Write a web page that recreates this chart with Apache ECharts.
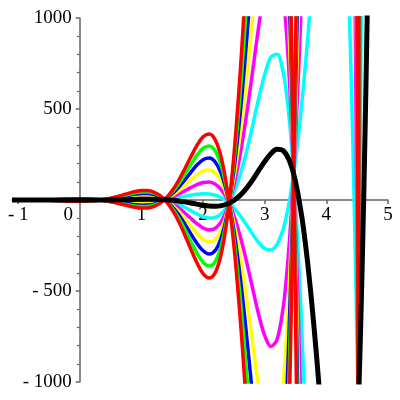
<!DOCTYPE html>
<html>
<head>
<meta charset="utf-8">
<script src="https://cdn.jsdelivr.net/npm/echarts@6/dist/echarts.min.js"></script>
<style>
  html, body { margin: 0; padding: 0; background: #fff; }
  #chart { width: 400px; height: 400px; }
</style>
</head>
<body>
<div id="chart"></div>
<script>
// tick positions on the x axis
const xTicks = [-1, 0, 1, 2, 3, 4, 5];

// [x, y] points, null y = curve is off the chart
const curveBlack = [[-1.1,0.1],[-0.5,-0.1],[-0.2,-0.3],[0,-0.5],[0.2,-0.5],[0.3,-0.3],[0.4,-0.1],[0.5,0.4],[0.6,0.9],[0.7,1.6],[0.8,2.4],[0.9,3.2],[1.0,3.8],[1.1,4.2],[1.2,4.1],[1.3,3.3],[1.4,1.6],[1.5,-1.2],[1.6,-5.1],[1.7,-10.3],[1.8,-16.3],[1.9,-22.8],[2.0,-28.8],[2.1,-33.2],[2.2,-34.5],[2.3,-31.0],[2.4,-20.9],[2.5,-2.5],[2.6,25.3],[2.7,62.8],[2.8,108.7],[2.9,161.0],[3.0,211.5],[3.1,254.6],[3.2,278.8],[3.3,271.0],[3.4,216.2],[3.5,100.0],[3.6,-88.8],[3.65,-212.7],[3.7,-356.4],[3.75,-519.0],[3.8,-699.6],[3.85,-894.3],[3.9,-1100.5],[4.2,null],[4.52,-1123.2],[4.53,-1012.0],[4.54,-898.5],[4.55,-779.7],[4.56,-650.3],[4.58,-378.0],[4.6,-80.4],[4.62,242.1],[4.64,589.7],[4.66,963.8],[4.68,1363.3]];

const cyanA = [[-1.1,-0.1],[-0.5,0.2],[-0.2,0.5],[0,0.5],[0.2,0.2],[0.3,-0.1],[0.4,-0.6],[0.5,-1.3],[0.6,-2.0],[0.7,-2.8],[0.8,-3.5],[0.9,-4.0],[1.0,-4.2],[1.1,-3.7],[1.2,-2.5],[1.3,-0.3],[1.4,3.1],[1.5,7.7],[1.6,13.3],[1.7,19.5],[1.8,25.8],[1.9,31.0],[2.0,33.8],[2.1,32.8],[2.2,26.0],[2.3,11.8],[2.4,-11.3],[2.5,-43.9],[2.6,-85.6],[2.7,-134.3],[2.8,-185.8],[2.9,-232.9],[3.0,-266.9],[3.1,-274.9],[3.2,-243.9],[3.3,-159.2],[3.35,-91.6],[3.4,-6.9],[3.45,97.6],[3.5,221.6],[3.55,365.4],[3.6,526.8],[3.65,705.7],[3.7,898.8],[3.75,1102.4],[4.0,null],[4.35,1261.5],[4.375,1003.4],[4.4,709.5],[4.42,447.4],[4.44,161.7],[4.46,-149.3],[4.48,-485.2],[4.49,-662.0],[4.5,-846.4],[4.51,-1036.3]];
const cyanB = [[-1.1,0.2],[-0.5,-0.3],[-0.2,-1.1],[0,-1.5],[0.2,-1.1],[0.3,-0.5],[0.4,0.5],[0.5,2.0],[0.6,3.8],[0.7,6.0],[0.8,8.3],[0.9,10.4],[1.0,11.8],[1.1,12.2],[1.2,10.8],[1.3,6.9],[1.4,0.2],[1.5,-10.0],[1.6,-23.6],[1.7,-40.1],[1.8,-58.4],[1.9,-76.5],[2.0,-91.4],[2.1,-99.1],[2.2,-95.0],[2.3,-73.7],[2.4,-30.5],[2.5,38.8],[2.6,136.2],[2.7,259.8],[2.8,403.2],[2.9,554.9],[3.0,689.9],[3.1,784.2],[3.2,801.5],[3.3,701.2],[3.35,592.0],[3.4,439.2],[3.45,235.4],[3.5,-21.7],[3.55,-335.6],[3.6,-704.5],[3.65,-1131.1],[4.0,null],[4.51,-1417.7],[4.52,-1013.8],[4.53,-586.7],[4.54,-152.6],[4.55,297.9],[4.56,782.0],[4.58,1789.1]];

const magentaA = [[-1.1,-0.2],[-0.5,0.5],[-0.2,1.3],[0,1.5],[0.2,0.9],[0.3,0.0],[0.4,-1.2],[0.5,-2.9],[0.6,-4.9],[0.7,-7.2],[0.8,-9.4],[0.9,-11.2],[1.0,-12.2],[1.1,-11.7],[1.2,-9.1],[1.3,-3.9],[1.4,4.6],[1.5,16.6],[1.6,31.7],[1.7,49.4],[1.8,67.8],[1.9,84.7],[2.0,96.4],[2.1,98.7],[2.2,86.5],[2.3,54.5],[2.4,-1.6],[2.5,-85.2],[2.6,-196.5],[2.7,-331.4],[2.8,-480.3],[2.9,-626.8],[3.0,-745.3],[3.1,-804.5],[3.2,-766.5],[3.3,-589.4],[3.35,-433.5],[3.4,-229.9],[3.45,28.8],[3.5,343.3],[3.55,715.9],[3.575,921.3],[3.6,1142.5],[4.0,null],[4.44,2124.4],[4.46,1364.4],[4.48,533.9],[4.49,93.6],[4.5,-368.1],[4.51,-845.6],[4.52,-1342.0]];
const magentaB = [[-1.1,0.3],[-0.5,-0.6],[-0.2,-2.0],[0,-2.5],[0.2,-1.8],[0.3,-0.7],[0.4,1.1],[0.5,3.6],[0.6,6.7],[0.7,10.4],[0.8,14.1],[0.9,17.6],[1.0,19.9],[1.1,20.1],[1.2,17.4],[1.3,10.5],[1.4,-1.3],[1.5,-18.9],[1.6,-42.0],[1.7,-69.9],[1.8,-100.5],[1.9,-130.2],[2.0,-153.9],[2.1,-165.0],[2.2,-155.4],[2.3,-116.4],[2.4,-40.2],[2.5,80.2],[2.6,247.1],[2.7,456.9],[2.8,697.7],[2.85,823.6],[2.9,948.8],[2.95,1063.7],[3.1,null],[3.3,1131.4],[3.325,1040.7],[3.35,933.9],[3.375,807.6],[3.4,662.3],[3.425,493.3],[3.45,304.2],[3.475,91.9],[3.5,-143.3],[3.525,-401.1],[3.55,-686.1],[3.575,-989.9],[3.6,-1320.2],[4.0,null],[4.5,-2281.3],[4.51,-1608.4],[4.52,-904.4],[4.53,-161.4],[4.54,593.3],[4.55,1375.5]];

const yellowA = [[-1.1,-0.3],[-0.5,0.7],[-0.2,2.1],[0,2.5],[0.2,1.5],[0.3,0.2],[0.4,-1.8],[0.5,-4.5],[0.6,-7.8],[0.7,-11.5],[0.8,-15.3],[0.9,-18.4],[1.0,-20.2],[1.1,-19.7],[1.2,-15.8],[1.3,-7.5],[1.4,6.1],[1.5,25.4],[1.6,50.2],[1.7,79.2],[1.8,109.9],[1.9,138.4],[2.0,159.0],[2.1,164.6],[2.2,147.0],[2.3,97.3],[2.4,8.0],[2.5,-126.6],[2.6,-307.4],[2.7,-528.5],[2.75,-649.9],[2.8,-774.8],[2.85,-899.9],[2.9,-1020.7],[3.1,null],[3.3,-1019.6],[3.325,-906.0],[3.35,-775.3],[3.375,-624.1],[3.4,-453.0],[3.425,-257.0],[3.45,-40.1],[3.475,200.7],[3.5,464.9],[3.525,751.9],[3.55,1066.4],[4.0,null],[4.46,2878.1],[4.48,1553.0],[4.49,849.2],[4.5,110.2],[4.51,-654.9],[4.52,-1451.4]];
const yellowB = [[-1.1,0.4],[-0.5,-0.9],[-0.2,-2.8],[0,-3.5],[0.2,-2.5],[0.3,-0.9],[0.4,1.7],[0.5,5.2],[0.6,9.7],[0.7,14.8],[0.8,20.0],[0.9,24.7],[1.0,27.9],[1.1,28.1],[1.2,24.0],[1.3,14.1],[1.4,-2.8],[1.5,-27.7],[1.6,-60.5],[1.7,-99.8],[1.8,-142.6],[1.9,-183.9],[2.0,-216.5],[2.1,-230.9],[2.2,-215.9],[2.3,-159.2],[2.4,-49.8],[2.5,121.6],[2.6,358.0],[2.7,654.0],[2.75,819.5],[2.8,992.2],[2.85,1168.2],[3.1,null],[3.35,1275.7],[3.375,1093.9],[3.4,885.3],[3.425,643.4],[3.45,373.1],[3.475,70.1],[3.5,-265.0],[3.525,-631.7],[3.55,-1036.6],[4.0,null],[4.5,-2759.6],[4.51,-1799.0],[4.52,-795.0],[4.53,263.9],[4.54,1339.2]];

const blueA = [[-1.1,-0.4],[-0.5,1.0],[-0.2,2.9],[0,3.5],[0.2,2.2],[0.3,0.4],[0.4,-2.4],[0.5,-6.1],[0.6,-10.7],[0.7,-15.9],[0.8,-21.1],[0.9,-25.6],[1.0,-28.2],[1.1,-27.6],[1.2,-22.4],[1.3,-11.1],[1.4,7.6],[1.5,34.3],[1.6,68.6],[1.7,109.0],[1.8,152.0],[1.9,192.1],[2.0,221.6],[2.1,230.6],[2.2,207.5],[2.3,140.0],[2.4,17.6],[2.5,-168.0],[2.6,-418.3],[2.65,-565.9],[2.7,-725.6],[2.75,-894.8],[2.8,-1069.3],[3.1,null],[3.35,-1117.2],[3.375,-910.5],[3.4,-676.0],[3.425,-407.0],[3.45,-108.9],[3.475,222.5],[3.5,586.6],[3.525,982.5],[3.55,1416.9],[4.0,null],[4.48,2572.1],[4.49,1604.8],[4.5,588.5],[4.51,-464.2],[4.52,-1560.8]];
const blueB = [[-1.1,0.5],[-0.5,-1.2],[-0.2,-3.6],[0,-4.5],[0.2,-3.2],[0.3,-1.1],[0.4,2.3],[0.5,6.8],[0.6,12.6],[0.7,19.1],[0.8,25.9],[0.9,31.9],[1.0,35.9],[1.1,36.1],[1.2,30.7],[1.3,17.7],[1.4,-4.3],[1.5,-36.6],[1.6,-78.9],[1.7,-129.6],[1.8,-184.7],[1.9,-237.6],[2.0,-279.1],[2.1,-296.9],[2.2,-276.4],[2.3,-201.9],[2.4,-59.4],[2.5,162.9],[2.6,468.8],[2.65,651.6],[2.7,851.1],[2.75,1064.4],[3.1,null],[3.375,1380.3],[3.4,1108.4],[3.425,793.4],[3.45,441.9],[3.475,48.3],[3.5,-386.6],[3.525,-862.3],[3.55,-1387.1],[4.0,null],[4.51,-1990.0],[4.52,-685.6],[4.53,689.2],[4.54,2085.1]];

const greenA = [[-1.1,-0.5],[-0.5,1.3],[-0.2,3.7],[0,4.5],[0.2,2.9],[0.3,0.6],[0.4,-3.0],[0.5,-7.7],[0.6,-13.6],[0.7,-20.3],[0.8,-27.0],[0.9,-32.8],[1.0,-36.2],[1.1,-35.6],[1.2,-29.0],[1.3,-14.7],[1.4,9.1],[1.5,43.1],[1.6,87.1],[1.7,138.8],[1.8,194.1],[1.9,245.8],[2.0,284.2],[2.1,296.5],[2.2,267.9],[2.3,182.7],[2.4,27.3],[2.5,-209.3],[2.6,-529.2],[2.65,-718.1],[2.7,-922.7],[2.75,-1139.7],[3.1,null],[3.375,-1196.8],[3.4,-899.1],[3.425,-557.0],[3.45,-177.8],[3.475,244.3],[3.5,708.2],[3.525,1213.2],[4.0,null],[4.49,2360.4],[4.5,1066.8],[4.51,-273.5],[4.52,-1670.2]];
const greenB = [[-1.1,0.7],[-0.5,-1.4],[-0.2,-4.4],[0,-5.5],[0.2,-3.8],[0.3,-1.2],[0.4,2.8],[0.5,8.5],[0.6,15.5],[0.7,23.5],[0.8,31.8],[0.9,39.1],[1.0,43.9],[1.1,44.0],[1.2,37.3],[1.3,21.3],[1.4,-5.8],[1.5,-45.5],[1.6,-97.4],[1.7,-159.4],[1.8,-226.7],[1.9,-291.4],[2.0,-341.7],[2.1,-362.8],[2.2,-336.9],[2.3,-244.7],[2.4,-69.0],[2.5,204.3],[2.6,579.7],[2.65,803.8],[2.7,1048.2],[3.1,null],[3.4,1331.5],[3.425,943.5],[3.45,510.8],[3.475,26.5],[3.5,-508.3],[3.525,-1093.0],[4.0,null],[4.51,-2180.0],[4.52,-576.2],[4.53,1114.5]];

const redA = [[-1.1,-0.7],[-0.5,1.5],[-0.2,4.5],[0,5.5],[0.2,3.5],[0.3,0.8],[0.4,-3.5],[0.5,-9.4],[0.6,-16.5],[0.7,-24.7],[0.8,-32.9],[0.9,-40.0],[1.0,-44.2],[1.1,-43.5],[1.2,-35.7],[1.3,-18.3],[1.4,10.6],[1.5,52.0],[1.6,105.5],[1.7,168.6],[1.8,236.2],[1.9,299.6],[2.0,346.8],[2.1,362.4],[2.2,328.4],[2.3,225.5],[2.4,36.9],[2.5,-250.7],[2.6,-640.1],[2.65,-870.2],[2.7,-1119.7],[3.1,null],[3.4,-1122.1],[3.425,-707.1],[3.45,-246.7],[3.475,266.0],[3.5,829.9],[3.525,1443.8],[4.0,null],[4.49,3116.0],[4.5,1545.1],[4.51,-82.8],[4.52,-1779.6]];
const redB = [[-1.1,0.8],[-0.5,-1.7],[-0.2,-5.2],[0,-6.5],[0.2,-4.5],[0.3,-1.4],[0.4,3.4],[0.5,10.1],[0.6,18.4],[0.7,27.9],[0.8,37.7],[0.9,46.3],[1.0,51.9],[1.1,52.0],[1.2,43.9],[1.3,24.9],[1.4,-7.3],[1.5,-54.3],[1.6,-115.8],[1.7,-189.2],[1.8,-268.8],[1.9,-345.1],[2.0,-404.3],[2.1,-428.7],[2.2,-397.4],[2.3,-287.4],[2.4,-78.7],[2.5,245.6],[2.6,690.6],[2.65,955.9],[2.7,1245.2],[3.1,null],[3.4,1554.5],[3.425,1093.5],[3.45,579.7],[3.475,4.8],[3.5,-629.9],[3.525,-1323.6],[4.0,null],[4.51,-2371.0],[4.52,-466.8],[4.53,1539.8]];

const serif = 'Liberation Serif';
const axisGrey = '#666';

// plot box: the axes cross at (0, 0), inside it
const gridLeft = 12, gridRight = 12, gridTop = 18, gridBottom = 18;
const plotW = 400 - gridLeft - gridRight;
const plotH = 400 - gridTop - gridBottom;
const xMin = -1.1, xMax = 5, yMin = -1000, yMax = 1000;
// pull the axes in from the box edges to the zero lines
const yAxisShift = -plotW * (0 - xMin) / (xMax - xMin);
const xAxisShift = -plotH * (0 - yMin) / (yMax - yMin);

function curve(data, color, width) {
  return {
    type: 'line',
    data: data,
    smooth: 0.35,
    symbol: 'none',
    clip: true,
    connectNulls: false,
    lineStyle: { color: color, width: width },
    silent: true
  };
}

// minus sign drawn like the original ("- 500")
function tickText(v) {
  if (v === 0) return '';
  return v < 0 ? '- ' + (-v) : String(v);
}

const chart = echarts.init(document.getElementById('chart'), null, { renderer: 'canvas' });

chart.setOption({
  animation: false,
  backgroundColor: '#fff',
  grid: {
    left: gridLeft, right: gridRight, top: gridTop, bottom: gridBottom,
    containLabel: false,
    outerBoundsMode: 'none'
  },
  xAxis: {
    type: 'value',
    min: xMin,
    max: xMax,
    position: 'bottom',
    offset: xAxisShift,
    axisLine: { onZero: false, lineStyle: { color: axisGrey, width: 1.5 } },
    axisTick: { show: true, length: 4, customValues: xTicks, lineStyle: { color: axisGrey, width: 1.5 } },
    splitLine: { show: false },
    axisLabel: {
      customValues: xTicks,
      margin: 6,
      color: '#000',
      fontFamily: serif,
      fontSize: 19,
      formatter: function (v) {
        if (v === 0) return '{z|0}';   // 0 sits left of the y axis
        return tickText(v);
      },
      rich: {
        z: { color: '#000', fontFamily: serif, fontSize: 19, padding: [0, 23, 0, 0] }
      }
    }
  },
  yAxis: {
    type: 'value',
    min: yMin,
    max: yMax,
    interval: 500,
    position: 'left',
    offset: yAxisShift,
    axisLine: { onZero: false, lineStyle: { color: axisGrey, width: 1.5 } },
    axisTick: { show: true, length: 4, lineStyle: { color: axisGrey, width: 1.5 } },
    minorTick: { show: true, splitNumber: 5, length: 3, lineStyle: { color: axisGrey, width: 1.2 } },
    splitLine: { show: false },
    minorSplitLine: { show: false },
    axisLabel: {
      margin: 8,
      color: '#000',
      fontFamily: serif,
      fontSize: 19,
      formatter: tickText
    }
  },
  series: [
    curve(cyanA, '#00ffff', 3.5),
    curve(cyanB, '#00ffff', 3.5),
    curve(magentaA, '#ff00ff', 3.5),
    curve(magentaB, '#ff00ff', 3.5),
    curve(yellowA, '#ffff00', 3.5),
    curve(yellowB, '#ffff00', 3.5),
    curve(blueA, '#0000ff', 3.5),
    curve(blueB, '#0000ff', 3.5),
    curve(greenA, '#00ff00', 3.5),
    curve(greenB, '#00ff00', 3.5),
    curve(redA, '#ff0000', 3.5),
    curve(redB, '#ff0000', 3.5),
    curve(curveBlack, '#000000', 5)
  ]
});
</script>
</body>
</html>
